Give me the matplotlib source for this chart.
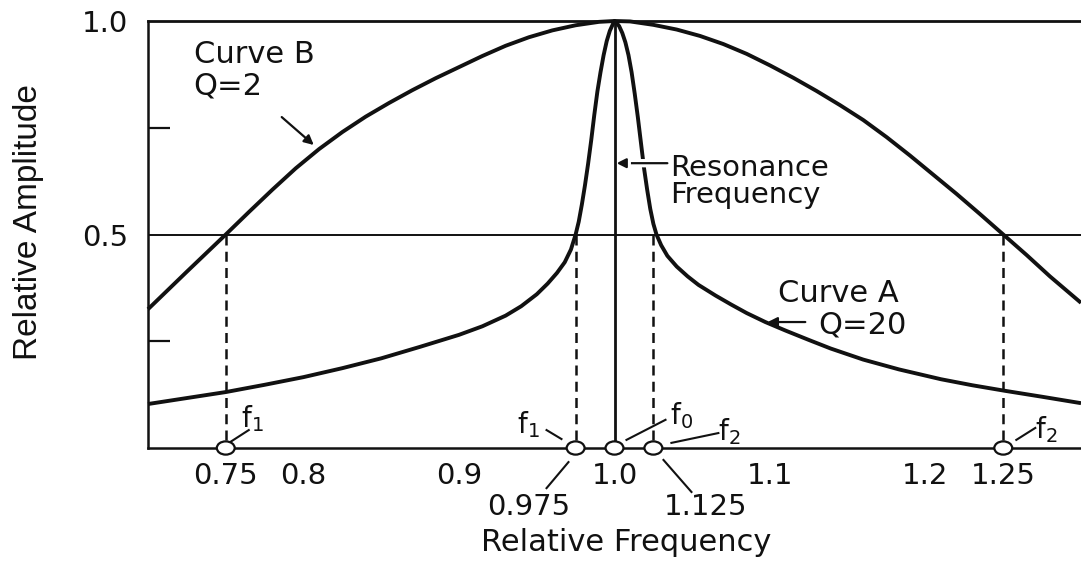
import numpy as np
import matplotlib
matplotlib.use("Agg")
import matplotlib.pyplot as plt
from matplotlib.patches import Ellipse
import matplotlib.patheffects as pe

# Resonance curves read as relative frequency / relative amplitude pairs
curve_b_freq = [0.70, 0.725, 0.75, 0.765, 0.78, 0.795, 0.81, 0.825, 0.84, 0.855, 0.87, 0.885,
                0.90, 0.915, 0.93, 0.945, 0.96, 0.975, 0.99, 1.0, 1.01, 1.025, 1.04, 1.055,
                1.07, 1.085, 1.10, 1.115, 1.13, 1.145, 1.16, 1.175, 1.19, 1.205, 1.22,
                1.235, 1.25, 1.265, 1.28, 1.30]
curve_b_amp = [0.325, 0.413, 0.50, 0.553, 0.605, 0.655, 0.70, 0.74, 0.776, 0.808, 0.838, 0.866,
               0.892, 0.918, 0.942, 0.962, 0.978, 0.99, 0.998, 1.0, 0.999, 0.991, 0.98, 0.965,
               0.946, 0.923, 0.896, 0.867, 0.836, 0.803, 0.768, 0.728, 0.685, 0.64, 0.595,
               0.548, 0.50, 0.452, 0.402, 0.34]

curve_a_freq = [0.70, 0.725, 0.75, 0.775, 0.80, 0.825, 0.85, 0.875, 0.90, 0.915, 0.93, 0.94,
                0.95, 0.957, 0.963, 0.968, 0.972, 0.975, 0.977, 0.979, 0.981, 0.983, 0.985,
                0.987, 0.989, 0.991, 0.993, 0.995, 0.997, 0.999, 1.0,
                1.001, 1.003, 1.005, 1.007, 1.009, 1.011, 1.013, 1.015, 1.017, 1.019, 1.021,
                1.023, 1.025, 1.027, 1.030, 1.034, 1.04, 1.047, 1.054, 1.065, 1.075, 1.085,
                1.097, 1.11, 1.125, 1.139, 1.16, 1.183, 1.21, 1.23, 1.251, 1.275, 1.30]
curve_a_amp = [0.103, 0.117, 0.131, 0.148, 0.166, 0.187, 0.21, 0.237, 0.265, 0.285, 0.31, 0.332,
               0.36, 0.385, 0.41, 0.435, 0.465, 0.50, 0.53, 0.57, 0.615, 0.665, 0.72,
               0.78, 0.835, 0.88, 0.92, 0.953, 0.977, 0.993, 1.0,
               0.997, 0.988, 0.972, 0.95, 0.92, 0.88, 0.83, 0.775, 0.715, 0.655, 0.605,
               0.56, 0.525, 0.50, 0.475, 0.45, 0.425, 0.402, 0.382, 0.357, 0.336, 0.316,
               0.295, 0.275, 0.253, 0.233, 0.207, 0.184, 0.161, 0.147, 0.134, 0.12, 0.105]

half_power_level = 0.5
half_power_freqs = [0.75, 0.975, 1.025, 1.25]
resonance_freq = 1.0
marked_freqs = [0.75, 0.975, 1.0, 1.025, 1.25]

xtick_pos = [0.75, 0.8, 0.9, 1.0, 1.1, 1.2, 1.25]
xtick_labels = ["0.75", "0.8", "0.9", "1.0", "1.1", "1.2", "1.25"]
ytick_pos = [0.5, 1.0]
ytick_labels = ["0.5", "1.0"]

INK = "#111111"
FONT = "DejaVu Sans"

fig = plt.figure(figsize=(10.81, 5.65), dpi=100)
ax = fig.add_axes([148 / 1081, 117 / 565, 933 / 1081, 427 / 565])
ax.set_xlim(0.7, 1.3)
ax.set_ylim(0, 1.0)

ax.spines["right"].set_visible(False)
for side in ["left", "bottom"]:
    ax.spines[side].set_linewidth(1.8)
    ax.spines[side].set_color(INK)
ax.spines["top"].set_linewidth(2.0)
ax.spines["top"].set_color(INK)

# half-amplitude reference line
ax.axhline(half_power_level, color=INK, lw=1.4, zorder=1)

# the two response curves
for xs, ys in [(curve_b_freq, curve_b_amp), (curve_a_freq, curve_a_amp)]:
    ax.plot(xs, ys, color=INK, lw=2.8, clip_on=False, zorder=2,
            solid_capstyle="butt", solid_joinstyle="round")

# dashed drops from the half-amplitude points
for f in half_power_freqs:
    ax.plot([f, f], [half_power_level, 0], color=INK, lw=1.8, ls=(0, (4, 2.5)), zorder=1)

# resonance line
ax.plot([resonance_freq, resonance_freq], [0, 1.0], color=INK, lw=2.0, zorder=4)

# open circles on the frequency axis
for f in marked_freqs:
    ax.add_patch(Ellipse((f, 0), width=0.0115, height=0.031, facecolor="white",
                         edgecolor=INK, lw=1.6, clip_on=False, zorder=5))

# ticks
ax.set_xticks(xtick_pos)
ax.set_xticklabels(xtick_labels, fontsize=21, family=FONT, color=INK)
ax.set_xticks([0.8, 0.9, 1.1, 1.2], minor=True)
ax.tick_params(axis="x", which="major", length=0, pad=10)
ax.tick_params(axis="x", which="minor", direction="in", length=8, width=1.6, color=INK)

ax.set_yticks(ytick_pos)
ax.set_yticklabels(ytick_labels, fontsize=21, family=FONT, color=INK)
ax.set_yticks([0.25, 0.75], minor=True)
ax.tick_params(axis="y", which="major", length=0, pad=14)
ax.tick_params(axis="y", which="minor", direction="in", length=16, width=1.6, color=INK)

# axis titles
ax.set_xlabel("Relative Frequency", fontsize=22, family=FONT, color=INK)
ax.xaxis.label.set_va("center")
ax.xaxis.set_label_coords(0.513, -0.222)
ax.set_ylabel("Relative Amplitude", fontsize=24,
              family=["Liberation Sans Narrow", "Liberation Sans"], color=INK)
ax.yaxis.label.set_va("center")
ax.yaxis.set_label_coords(-0.128, 0.53)

txt = dict(fontsize=22, family=FONT, color=INK, va="baseline", ha="left")
ax.text(0.7294, 0.902, "Curve B", **txt)
ax.text(0.7294, 0.827, "Q=2", **txt)
ax.text(1.036, 0.638, "Resonance", fontsize=21, family=FONT, color=INK, va="baseline")
ax.text(1.036, 0.574, "Frequency", fontsize=21, family=FONT, color=INK, va="baseline")
ax.text(1.1054, 0.342, "Curve A", **txt)
ax.text(1.131, 0.269, "Q=20", **txt)

arrow = dict(arrowstyle="-|>", lw=1.6, color=INK, mutation_scale=14, shrinkA=0, shrinkB=0)
ax.annotate("", xy=(0.8066, 0.7096), xytext=(0.786, 0.775), arrowprops=arrow, zorder=3)
ax.annotate("", xy=(1.0985, 0.295), xytext=(1.1227, 0.295), arrowprops=arrow, zorder=3)
res_arrow = ax.annotate("", xy=(1.0013, 0.667), xytext=(1.034, 0.667),
                        arrowprops=dict(arrow), zorder=3)
res_arrow.arrow_patch.set_path_effects([pe.withStroke(linewidth=6, foreground="white")])

# frequency markers below the curves
ftxt = dict(fontsize=20, family=FONT, color=INK, va="center", ha="left", clip_on=False)
ax.text(0.7596, 0.068, r"$\mathrm{f}_1$", **ftxt)
ax.text(0.937, 0.054, r"$\mathrm{f}_1$", **ftxt)
ax.text(1.036, 0.075, r"$\mathrm{f}_0$", **ftxt)
ax.text(1.0668, 0.0375, r"$\mathrm{f}_2$", **ftxt)
ax.text(1.2706, 0.042, r"$\mathrm{f}_2$", **ftxt)

ax.text(0.9447, -0.138, "0.975", fontsize=21, family=FONT, color=INK,
        ha="center", va="center", clip_on=False)
ax.text(1.0585, -0.138, "1.125", fontsize=21, family=FONT, color=INK,
        ha="center", va="center", clip_on=False)

leaders = [
    ((0.7519, 0.7648), (0.0117, 0.042)),
    ((0.9659, 0.9563), (0.021, 0.042)),
    ((0.9704, 0.9563), (-0.033, -0.094)),
    ((1.0077, 1.0328), (0.019, 0.066)),
    ((1.0366, 1.0668), (0.012, 0.035)),
    ((1.0315, 1.0495), (-0.028, -0.103)),
    ((1.2584, 1.2706), (0.019, 0.047)),
]
for xs, ys in leaders:
    ax.plot(xs, ys, color=INK, lw=1.5, clip_on=False, zorder=4)

fig.savefig("out.png", dpi=100, facecolor="white")
